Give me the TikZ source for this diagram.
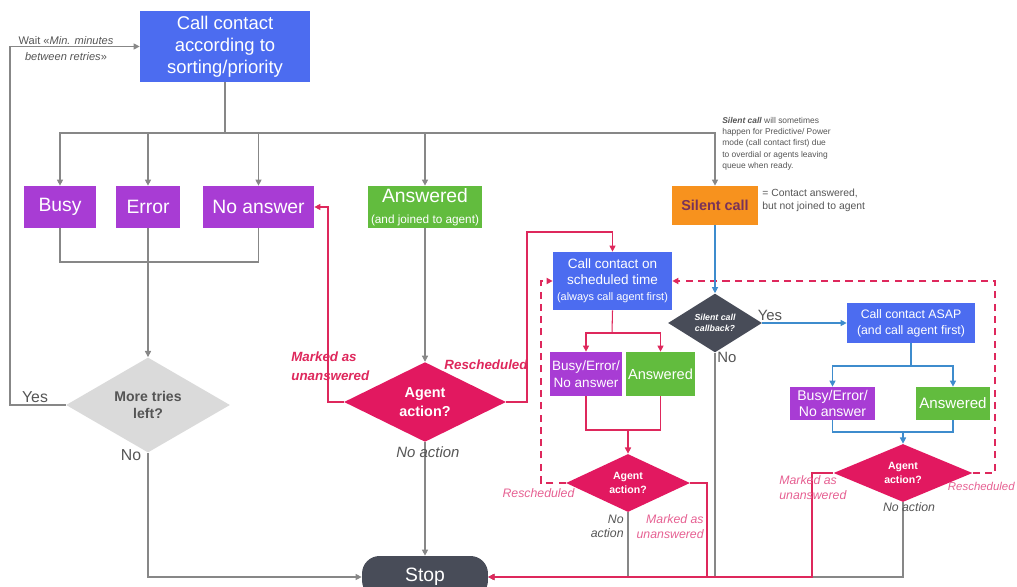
\documentclass[tikz,border=0pt]{standalone}
\usepackage{fontspec}
\setmainfont{Liberation Sans}
\usepackage{tikz}
\usetikzlibrary{shapes.geometric, arrows.meta}
\definecolor{callblue}{RGB}{76,108,240}
\definecolor{failpurple}{RGB}{168,60,212}
\definecolor{okgreen}{RGB}{98,188,62}
\definecolor{silentorange}{RGB}{247,146,30}
\definecolor{actioncrimson}{RGB}{226,24,96}
\definecolor{stopslate}{RGB}{72,76,88}
\definecolor{triesgray}{RGB}{218,218,218}
\definecolor{linegray}{RGB}{135,135,135}
\definecolor{labelgray}{RGB}{85,85,85}
\definecolor{linered}{RGB}{222,40,92}
\definecolor{labelpink}{RGB}{230,96,146}
\definecolor{lineblue}{RGB}{62,140,205}
\definecolor{silentplum}{RGB}{120,50,90}

\begin{document}
\begin{tikzpicture}[x=0.02cm, y=-0.02cm,
    box/.style={rectangle, text=white, align=center, inner sep=1pt},
    callbox/.style={box, fill=callblue},
    failbox/.style={box, fill=failpurple},
    okbox/.style={box, fill=okgreen},
    decision/.style={diamond, inner sep=0pt, align=center},
    tip/.style={-{Triangle[length=3.5pt,width=3.5pt]}},
    gline/.style={draw=linegray, line width=0.6pt},
    rline/.style={draw=linered, line width=0.6pt},
    bline/.style={draw=lineblue, line width=0.6pt},
    rdash/.style={draw=linered, line width=1pt, dash pattern=on 4pt off 3pt, tip},
    lbl/.style={inner sep=0pt, text=labelgray},
    redlbl/.style={inner sep=0pt, text=linered, font=\fontsize{7.6}{10.8}\selectfont\bfseries\itshape},
    pinklbl/.style={inner sep=0pt, text=labelpink, font=\fontsize{7}{8.6}\selectfont\itshape}]
    \useasboundingbox (0,0) rectangle (1017,587);

    % Start and first results
    \node[callbox, minimum width=3.4cm, minimum height=1.42cm, font=\fontsize{10.5}{12.5}\selectfont]
        (start) at (225,46.5) {Call contact\\according to\\sorting/priority};
    \node[failbox, minimum width=1.46cm, minimum height=0.84cm, font=\fontsize{11}{13}\selectfont] (busy) at (60,207) {Busy};
    \node[failbox, minimum width=1.28cm, minimum height=0.84cm, font=\fontsize{11}{13}\selectfont] (error) at (148,207) {Error};
    \node[failbox, minimum width=2.22cm, minimum height=0.84cm, font=\fontsize{11}{13}\selectfont] (noans) at (258.5,207) {No answer};
    \node[okbox, minimum width=2.3cm, minimum height=0.84cm, font=\fontsize{11}{12}\selectfont]
        (answered) at (425,207) {Answered\\{\fontsize{6.7}{8}\selectfont(and joined to agent)}};
    \node[box, fill=silentorange, text=silentplum, minimum width=1.72cm, minimum height=0.78cm, font=\fontsize{8.2}{10}\selectfont\bfseries]
        (silent) at (715,205.5) {Silent call};

    % Decisions
    \node[decision, fill=triesgray, text=labelgray, minimum width=3.28cm, minimum height=1.28cm, font=\fontsize{8}{10}\selectfont\bfseries]
        (tries) at (148,405) {More tries\\left?};
    \node[decision, fill=actioncrimson, text=white, minimum width=3.24cm, minimum height=1.28cm, font=\fontsize{8.2}{10.5}\selectfont\bfseries]
        (act) at (425,402) {Agent\\action?};
    \node[rectangle, rounded corners=10pt, fill=stopslate, text=white, minimum width=2.52cm, minimum height=0.84cm, font=\fontsize{11}{13}\selectfont]
        (stop) at (425,577) {Stop};

    % Scheduled callback
    \node[callbox, minimum width=2.38cm, minimum height=1.16cm, font=\fontsize{7.7}{9}\selectfont]
        (sched) at (612.5,281) {Call contact on\\scheduled time\\{\fontsize{6.2}{7.5}\selectfont(always call agent first)}};
    \node[failbox, minimum width=1.4cm, minimum height=0.88cm, font=\fontsize{7.7}{9.5}\selectfont] (sbusy) at (586,374) {Busy/Error/\\No answer};
    \node[okbox, minimum width=1.38cm, minimum height=0.88cm, font=\fontsize{8.3}{10}\selectfont] (sans) at (660.5,374) {Answered};
    \node[decision, fill=actioncrimson, text=white, minimum width=2.48cm, minimum height=1.12cm, font=\fontsize{6}{7.5}\selectfont\bfseries]
        (sact) at (628,483) {Agent\\action?};

    % Silent call callback
    \node[decision, fill=stopslate, text=white, minimum width=1.88cm, minimum height=1.06cm, font=\fontsize{5}{6.5}\selectfont\bfseries\itshape]
        (cb) at (715,323) {Silent call\\callback?};
    \node[callbox, minimum width=2.56cm, minimum height=0.8cm, font=\fontsize{7}{9}\selectfont]
        (asap) at (911,323) {Call contact ASAP\\(and call agent first)};
    \node[failbox, minimum width=1.7cm, minimum height=0.66cm, font=\fontsize{8}{9.5}\selectfont] (abusy) at (832.5,403.5) {Busy/Error/\\No answer};
    \node[okbox, minimum width=1.48cm, minimum height=0.66cm, font=\fontsize{8.6}{10}\selectfont] (aans) at (953,403.5) {Answered};
    \node[decision, fill=actioncrimson, text=white, minimum width=2.78cm, minimum height=1.16cm, font=\fontsize{6}{7.5}\selectfont\bfseries]
        (aact) at (903,473) {Agent\\action?};

    % Corner points
    \coordinate (bus) at (225,133);
    \coordinate (merge) at (148,262);
    \coordinate (ret) at (10,46.5);
    \coordinate (mk) at (328,207);
    \coordinate (rs1) at (527,232);
    \coordinate (ssplit) at (612,333);
    \coordinate (smerge) at (628,430);
    \coordinate (rs2) at (541,281);
    \coordinate (rd2) at (707,530);
    \coordinate (asplit) at (911,366);
    \coordinate (amerge) at (903,432);
    \coordinate (rs3) at (995,281);
    \coordinate (rd3) at (812,530);

    % Gray connectors
    \draw[gline] (start.south) -- (bus);
    \foreach \n in {busy,error,noans,answered,silent}
        \draw[gline, tip] (bus) -| (\n.north);
    \draw[gline] (busy.south) |- (merge) -| (noans.south);
    \draw[gline, tip] (error.south) -- (tries.north);
    \draw[gline, tip] (tries.west) -| (ret) -- (start.west);
    \draw[gline, tip] (tries.south) |- (stop.west);
    \draw[gline, tip] (answered.south) -- (act.north);
    \draw[gline, tip] (act.south) -- (stop.north);
    \foreach \n in {sact,cb,aact}
        \draw[gline, tip] (\n.south) |- (stop.east);

    % Red connectors
    \draw[rline, tip] (act.west) -| (mk) -- (noans.east);
    \draw[rline, tip] (act.east) -| (rs1) -| (sched.north);
    \draw[rline] (sched.south) -- (ssplit);
    \draw[rline, tip] (ssplit) -| (sbusy.north);
    \draw[rline, tip] (ssplit) -| (sans.north);
    \draw[rline] (sbusy.south) |- (smerge) -| (sans.south);
    \draw[rline, tip] (smerge) -- (sact.north);
    \draw[rline, tip] (sact.east) -| (rd2) |- (stop.east);
    \draw[rline, tip] (aact.west) -| (rd3) |- (stop.east);
    \draw[rdash] (sact.west) -| (rs2) -- (sched.west);
    \draw[rdash] (aact.east) -| (rs3) -- (sched.east);

    % Blue connectors
    \draw[bline, tip] (silent.south) -- (cb.north);
    \draw[bline, tip] (cb.east) -- (asap.west);
    \draw[bline] (asap.south) -- (asplit);
    \draw[bline, tip] (asplit) -| (abusy.north);
    \draw[bline, tip] (asplit) -| (aans.north);
    \draw[bline] (abusy.south) |- (amerge) -| (aans.south);
    \draw[bline, tip] (amerge) -- (aact.north);

    % Labels
    \node[lbl, align=center, font=\fontsize{6.3}{9.6}\selectfont] (waitlbl) at (66,48.5)
        {Wait «\textit{Min. minutes}\\\textit{between retries}»};
    \node[lbl, font=\fontsize{9}{11}\selectfont] (yes1) at (35,397) {Yes};
    \node[lbl, font=\fontsize{9}{11}\selectfont] (no1) at (131,455) {No};
    \node[redlbl, anchor=west, align=left] (mk1) at (291,366) {Marked as\\unanswered};
    \node[redlbl] (rs1lbl) at (486,365) {Rescheduled};
    \node[lbl, font=\fontsize{8.5}{10}\selectfont\itshape] (na1) at (428,452) {No action};
    \node[pinklbl] (rs2lbl) at (538.5,493) {Rescheduled};
    \node[lbl, anchor=east, align=right, font=\fontsize{7}{8}\selectfont\itshape] (na2) at (624,526) {No\\action};
    \node[pinklbl, anchor=east, align=right] (mk2) at (704,527) {Marked as\\unanswered};
    \node[lbl, font=\fontsize{8.5}{10}\selectfont] (yes2) at (770,315) {Yes};
    \node[lbl, font=\fontsize{8.5}{10}\selectfont] (no2) at (727,357) {No};
    \node[pinklbl, anchor=west, align=left] (mk3) at (779,488) {Marked as\\unanswered};
    \node[pinklbl, anchor=east, font=\fontsize{6.5}{8}\selectfont\itshape] (rs3lbl) at (1015,486) {Rescheduled};
    \node[lbl, font=\fontsize{7}{8}\selectfont\itshape] (na3) at (909,507) {No action};

    % Silent call notes
    \node[lbl, anchor=north west, align=left, font=\fontsize{4.8}{6.4}\selectfont] (silentnote) at (722,117)
        {\textbf{\textit{Silent call}} will sometimes\\happen for Predictive/ Power\\mode (call contact first) due\\to overdial or agents leaving\\queue when ready.};
    \node[lbl, anchor=west, align=left, font=\fontsize{5.9}{7.4}\selectfont] (silentdef) at (762,200)
        {= Contact answered,\\but not joined to agent};
\end{tikzpicture}
\end{document}
